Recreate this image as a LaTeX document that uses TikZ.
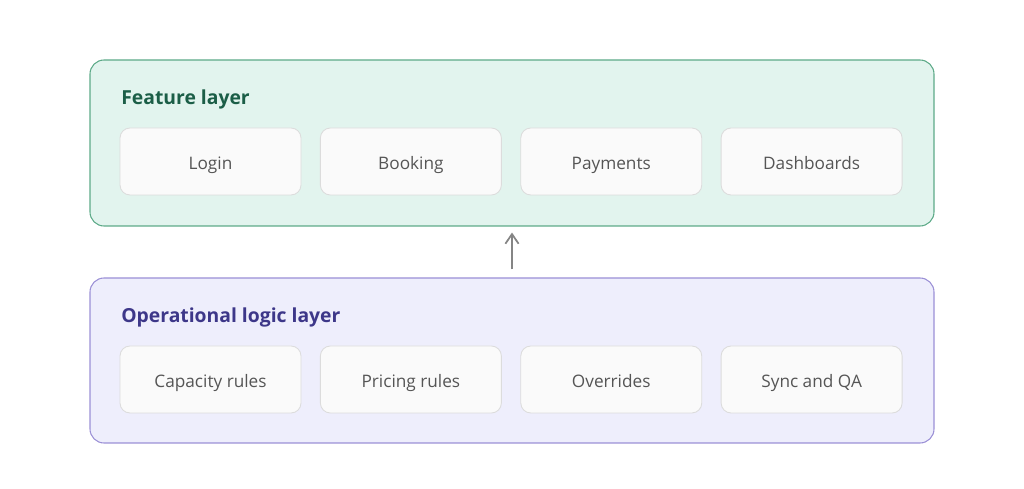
\documentclass[tikz,border=0pt]{standalone}
\usepackage{fontspec}
\setmainfont{Open Sans}
\usetikzlibrary{positioning,arrows.meta}
\definecolor{featfill}{HTML}{E2F4EE}
\definecolor{featline}{HTML}{5DAA88}
\definecolor{feattext}{HTML}{1B5E47}
\definecolor{opfill}{HTML}{EEEEFC}
\definecolor{opline}{HTML}{9B90D6}
\definecolor{optext}{HTML}{3D3789}
\definecolor{itemfill}{HTML}{FAFAFA}
\definecolor{itemline}{HTML}{DCDCDC}
\definecolor{itemtext}{HTML}{555555}
\definecolor{arrowgray}{HTML}{858585}
\tikzset{
  panel/.style={draw, rounded corners=0.28cm, line width=0.6pt,
    minimum width=16.88cm, inner sep=0pt},
  item/.style={draw=itemline, fill=itemfill, rounded corners=0.2cm,
    line width=0.5pt, minimum width=3.62cm, minimum height=1.34cm,
    inner sep=0pt, text height=0.34cm, text depth=0cm, text=itemtext,
    font=\fontsize{9.8}{11}\selectfont},
  layertitle/.style={anchor=base west, inner sep=0pt,
    font=\fontsize{11}{13}\selectfont\bfseries},
}
\begin{document}
\begin{tikzpicture}
  \useasboundingbox (0,0) rectangle (20.48,9.78);
  % layers
  \node[panel, draw=featline, fill=featfill, minimum height=3.32cm]
    (feature) at (10.24,6.92) {};
  \node[panel, draw=opline, fill=opfill, minimum height=3.30cm]
    (oplogic) at (10.24,2.57) {};
  \node[layertitle, text=feattext] (featuretitle) at (2.42,7.68) {Feature layer};
  \node[layertitle, text=optext] (oplogictitle) at (2.42,3.32) {Operational logic layer};
  % feature items
  \node[item] (login) at (4.21,6.55) {Login};
  \node[item, right=0.37cm of login] (booking) {Booking};
  \node[item, right=0.37cm of booking] (payments) {Payments};
  \node[item, right=0.37cm of payments] (dashboards) {Dashboards};
  % operational items
  \node[item] (capacity) at (4.21,2.19) {Capacity rules};
  \node[item, right=0.37cm of capacity] (pricing) {Pricing rules};
  \node[item, right=0.37cm of pricing] (overrides) {Overrides};
  \node[item, right=0.37cm of overrides] (syncqa) {Sync and QA};
  \draw[-{Straight Barb[length=5.5pt,width=7.5pt]}, arrowgray, line width=1pt,
    shorten <=0.16cm, shorten >=0.12cm]
    (oplogic.north) -- (feature.south);
\end{tikzpicture}
\end{document}
